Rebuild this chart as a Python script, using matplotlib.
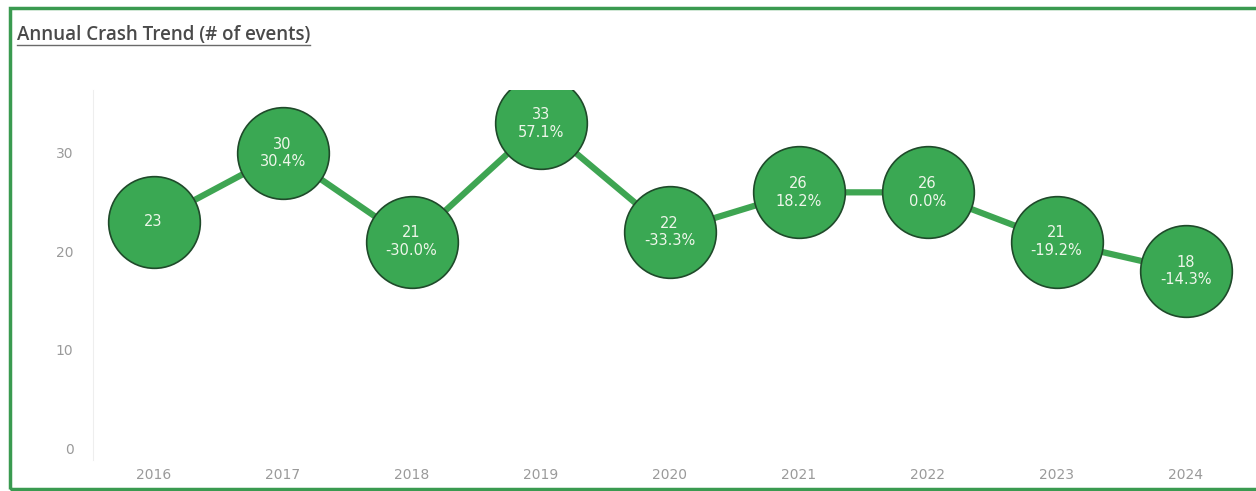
import matplotlib.pyplot as plt
from matplotlib.lines import Line2D
from matplotlib.patches import Rectangle

years = [2016, 2017, 2018, 2019, 2020, 2021, 2022, 2023, 2024]
crashes = [23, 30, 21, 33, 22, 26, 26, 21, 18]
yticks = [0, 10, 20, 30]

GREEN = '#3aa853'
LINE = '#3ea552'
EDGE = '#1f4a2a'


def labels(vals):
    out = [str(vals[0])]
    for prev, cur in zip(vals[:-1], vals[1:]):
        out.append(f'{cur}\n{(cur / prev - 1) * 100:.1f}%')
    return out


def main():
    fig = plt.figure(figsize=(12.56, 4.91), dpi=100)
    fig.patch.set_facecolor('white')
    ax = fig.add_axes([93 / 1256, 1 - 460 / 491, (1250 - 93) / 1256, (460 - 90) / 491])

    ax.plot(years, crashes, color=LINE, lw=4.5, zorder=2)
    ax.plot(years, crashes, 'o', ms=66, mfc=GREEN, mec=EDGE, mew=1.2, zorder=3)
    for x, y, t in zip(years, crashes, labels(crashes)):
        ax.text(x, y, t, ha='center', va='center', color='#eef6ea',
                fontsize=10.5, linespacing=1.2, zorder=4)

    ax.set_xlim(2015.53, 2024.5)
    ax.set_ylim(-1.2, 36.4)
    ax.set_xticks(years)
    ax.set_xticklabels([str(y) for y in years])
    ax.set_yticks(yticks)
    ax.tick_params(length=0, colors='#9a9a9a', labelsize=10)
    ax.tick_params(axis='x', pad=6)
    ax.tick_params(axis='y', pad=14)
    for s in ['top', 'right', 'bottom']:
        ax.spines[s].set_visible(False)
    ax.spines['left'].set_color('#eeeeee')

    # frame and title
    fig.patches.append(Rectangle((10 / 1256, 2 / 491), 1250 / 1256, 481 / 491,
                                 transform=fig.transFigure, fill=False,
                                 ec='#3a9a50', lw=2.5))
    t = fig.text(17 / 1256, 1 - 35 / 491, 'Annual Crash Trend (# of events)',
                 fontsize=13.5, color='#4a4a4a', family='Open Sans',
                 weight='semibold', va='center')
    fig.canvas.draw()
    bb = t.get_window_extent().transformed(fig.transFigure.inverted())
    fig.lines.append(Line2D([bb.x0, bb.x1], [1 - 45 / 491] * 2,
                            transform=fig.transFigure, color='#6a6a6a', lw=1))

    fig.savefig('out.png', dpi=100)


if __name__ == '__main__':
    main()
